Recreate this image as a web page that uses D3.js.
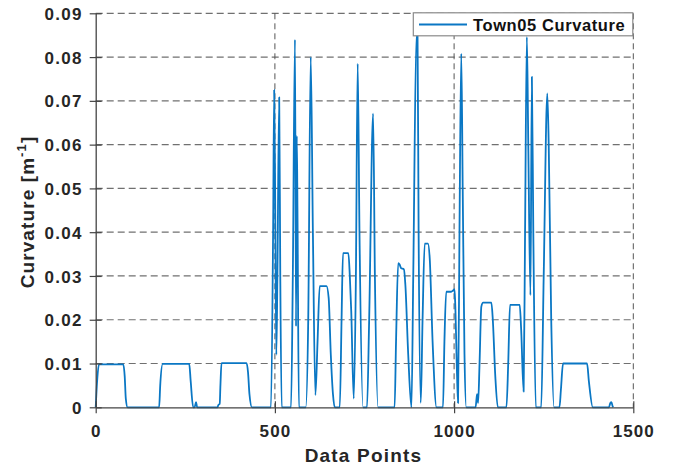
<!DOCTYPE html>
<html>
<head>
<meta charset="utf-8">
<script src="https://cdn.jsdelivr.net/npm/d3@7"></script>
<style>
  html, body { margin: 0; padding: 0; background: #ffffff; }
  svg { display: block; font-family: "Liberation Sans", Arial, sans-serif; }
</style>
</head>
<body>
<svg id="chart" width="676" height="466"></svg>
<script>
// ---- data ----
const seriesName = "Town05 Curvature";
const xValues = [
  0, 4, 9, 77, 81, 84, 89,
  177, 180, 187, 261, 265, 272, 276, 280, 283,
  340, 342, 346, 348, 351, 421, 425, 429, 436,
  489, 495, 498, 501, 504, 507, 512, 515, 519,
  545, 550, 556, 559, 561, 563, 567, 586,
  593, 600, 606, 613, 619, 625, 644, 650, 656, 662, 667,
  681, 686, 690, 705, 709, 713, 720, 726, 731, 736, 746,
  757, 763, 774, 779, 788,
  834, 838, 844, 848, 852, 860, 864, 872, 881, 886, 895, 898, 901, 907, 912, 918, 927, 932, 940, 951,
  969, 973, 978, 992, 996, 999, 1001, 1003, 1008, 1011, 1015, 1020, 1024, 1029, 1034,
  1060, 1064, 1067, 1071, 1076, 1081, 1104, 1108, 1115, 1122,
  1146, 1151, 1156, 1183, 1187, 1194, 1198, 1203, 1207, 1213, 1217, 1221, 1228,
  1243, 1250, 1260, 1264, 1271, 1279,
  1294, 1298, 1304, 1371, 1376, 1387,
  1432, 1436, 1439, 1442, 1444
];
const curvature = [
  0, 0.006, 0.0098, 0.0098, 0.007, 0.002, 0,
  0, 0.005, 0.0099, 0.0099, 0.006, 0, 0, 0.0012, 0,
  0, 0.0005, 0.0008, 0.005, 0.0101, 0.0101, 0.008, 0.003, 0,
  0, 0.04, 0.0725, 0.045, 0.012, 0.03, 0.0708, 0.03, 0,
  0, 0.03, 0.084, 0.0185, 0.062, 0.045, 0, 0,
  0.02, 0.080, 0.04, 0.0028, 0.015, 0.0277, 0.0277, 0.025, 0.012, 0.003, 0,
  0, 0.02, 0.0352, 0.0352, 0.03, 0.022, 0.002, 0.03, 0.0785, 0.04, 0,
  0, 0.02, 0.0671, 0.03, 0,
  0, 0.015, 0.0329, 0.0326, 0.0318, 0.0315, 0.028, 0.012, 0, 0.03, 0.085, 0.085, 0.04, 0.001, 0.02, 0.0374, 0.0374, 0.034, 0.015, 0,
  0, 0.015, 0.0264, 0.0264, 0.0266, 0.0268, 0.027, 0.024, 0.008, 0.001, 0.04, 0.0808, 0.05, 0.012, 0,
  0, 0.003, 0.001, 0.01, 0.023, 0.0239, 0.0239, 0.02, 0.007, 0,
  0, 0.01, 0.0234, 0.0234, 0.018, 0.0036, 0.04, 0.0846, 0.06, 0.0256, 0.0755, 0.04, 0,
  0, 0.03, 0.0717, 0.06, 0.02, 0,
  0, 0.004, 0.01, 0.01, 0.006, 0,
  0, 0.001, 0.0012, 0.0003, 0
];
const xTicks = [0, 500, 1000, 1500];
const xTickLabels = ["0", "500", "1000", "1500"];
const yTicks = [0, 0.01, 0.02, 0.03, 0.04, 0.05, 0.06, 0.07, 0.08, 0.09];
const yTickLabels = ["0", "0.01", "0.02", "0.03", "0.04", "0.05", "0.06", "0.07", "0.08", "0.09"];
const xLabel = "Data Points";
const yLabel = "Curvature [m";
const yLabelSup = "-1";

// ---- layout ----
const svg = d3.select("#chart");
const plotLeft = 95.7, plotRight = 633.3, plotTop = 13.3, plotBottom = 407.3;
const x = d3.scaleLinear().domain([0, 1500]).range([plotLeft, plotRight]);
const y = d3.scaleLinear().domain([0, 0.09]).range([plotBottom, plotTop]);
const textColor = "#262626";

// horizontal grid (dashed)
svg.append("g").selectAll("line").data(yTicks.filter(d => d > 0)).join("line")
  .attr("x1", plotLeft).attr("x2", plotRight)
  .attr("y1", d => y(d)).attr("y2", d => y(d))
  .attr("stroke", "#707070").attr("stroke-width", 1.2)
  .attr("stroke-dasharray", "7,4");

// vertical grid (dashed)
svg.append("g").selectAll("line").data(xTicks.filter(d => d > 0)).join("line")
  .attr("x1", d => x(d)).attr("x2", d => x(d))
  .attr("y1", plotTop).attr("y2", plotBottom)
  .attr("stroke", "#555").attr("stroke-width", 1)
  .attr("stroke-dasharray", "6,4");

// data line
const line = d3.line()
  .x((d, i) => x(xValues[i]))
  .y((d, i) => y(curvature[i]))
  .curve(d3.curveMonotoneX);
svg.append("path")
  .datum(curvature)
  .attr("d", line)
  .attr("fill", "none")
  .attr("stroke", "#0a77c4")
  .attr("stroke-width", 1.8)
  .attr("stroke-linejoin", "round");

// axes
const xAxis = d3.axisBottom(x).tickValues(xTicks).tickFormat((d, i) => xTickLabels[i]).tickSizeInner(6).tickSizeOuter(0);
const gx = svg.append("g").attr("transform", `translate(0,${plotBottom})`).call(xAxis);
gx.select(".domain").attr("stroke", "#444").attr("stroke-width", 1.3);
gx.selectAll(".tick line").attr("stroke", "#444").attr("stroke-width", 1.2).attr("y1", -6).attr("y2", 6);
gx.selectAll(".tick text")
  .attr("y", 29.4).attr("dy", 0)
  .attr("fill", textColor)
  .style("font-family", '"Liberation Sans", Arial, sans-serif')
  .style("font-size", "17px").style("font-weight", "bold")
  .style("letter-spacing", "1.1px");

const yAxis = d3.axisLeft(y).tickValues(yTicks).tickFormat((d, i) => yTickLabels[i]).tickSizeInner(6).tickSizeOuter(0);
const gy = svg.append("g").attr("transform", `translate(${plotLeft},0)`).call(yAxis);
gy.select(".domain").attr("stroke", "#444").attr("stroke-width", 1.3);
gy.selectAll(".tick line").attr("stroke", "#444").attr("stroke-width", 1.2).attr("x1", -6).attr("x2", 6);
gy.selectAll(".tick text")
  .attr("x", -13).attr("dy", "0.36em")
  .attr("fill", textColor)
  .style("font-family", '"Liberation Sans", Arial, sans-serif')
  .style("font-size", "17px").style("font-weight", "bold")
  .style("letter-spacing", "1.3px");

// axis labels
svg.append("text")
  .attr("x", (plotLeft + plotRight) / 2 - 1).attr("y", 462)
  .attr("text-anchor", "middle")
  .attr("fill", textColor)
  .style("font-size", "19px").style("font-weight", "bold").style("letter-spacing", "1.2px")
  .text(xLabel);

const yl = svg.append("text")
  .attr("transform", "translate(34,212) rotate(-90)")
  .attr("text-anchor", "middle")
  .attr("fill", textColor)
  .style("font-size", "19px").style("font-weight", "bold").style("letter-spacing", "1.1px");
yl.append("tspan").text(yLabel);
yl.append("tspan").attr("dy", -8).style("font-size", "13px").text(yLabelSup);
yl.append("tspan").attr("dy", 8).text("]");

// legend
const lg = svg.append("g");
lg.append("rect")
  .attr("x", 413.3).attr("y", 12.8).attr("width", 219.5).attr("height", 23)
  .attr("fill", "#ffffff").attr("stroke", "#8a8a8a").attr("stroke-width", 1.2);
lg.append("line")
  .attr("x1", 419).attr("x2", 467).attr("y1", 24.5).attr("y2", 24.5)
  .attr("stroke", "#0a77c4").attr("stroke-width", 1.8);
lg.append("text")
  .attr("x", 473).attr("y", 30.6)
  .attr("fill", "#111")
  .style("font-size", "16.5px").style("font-weight", "bold").style("letter-spacing", "0.6px")
  .text(seriesName);
</script>
</body>
</html>
